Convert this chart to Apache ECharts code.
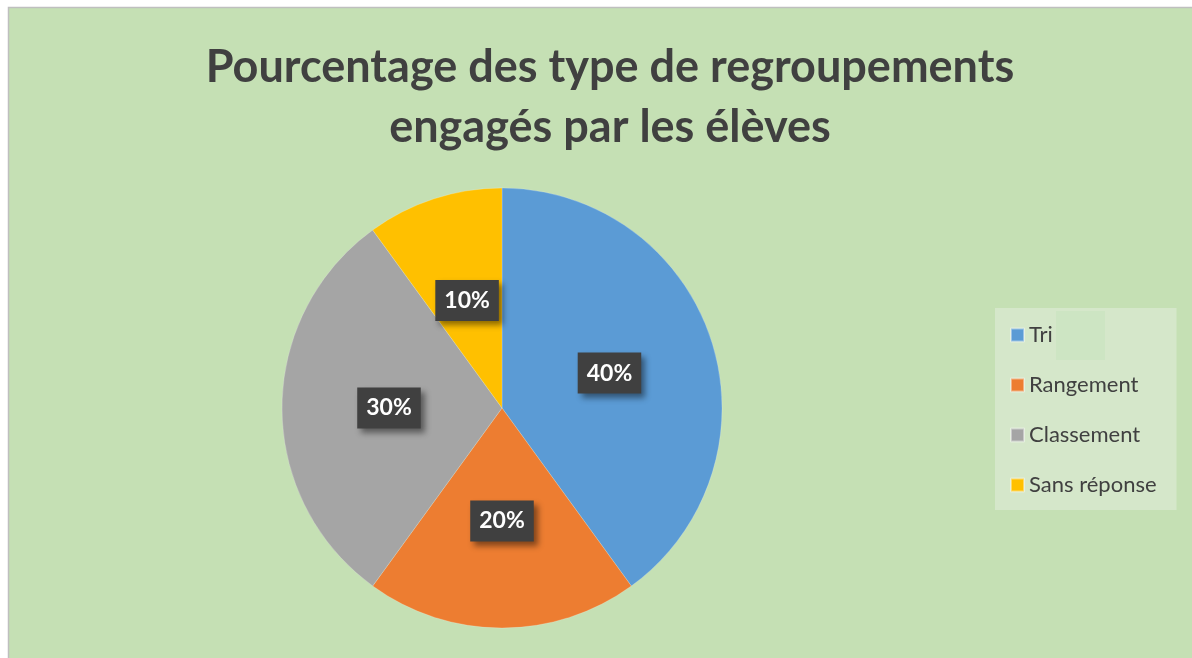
<!DOCTYPE html>
<html>
<head>
<meta charset="utf-8">
<script src="https://cdn.jsdelivr.net/npm/echarts@6/dist/echarts.min.js"></script>
<style>
  html, body { margin: 0; padding: 0; background: #ffffff; }
  #chart { width: 1192px; height: 658px; }
</style>
</head>
<body>
<div id="chart"></div>
<script>
// données du graphique
const categories = ['Tri', 'Rangement', 'Classement', 'Sans réponse']
const values = [40, 20, 30, 10]
const colors = ['#5B9BD5', '#ED7D31', '#A5A5A5', '#FFC000']

const chart = echarts.init(document.getElementById('chart'))

const options = {
  color: colors,
  title: {
    text: 'Pourcentage des type de regroupements\nengagés par les élèves',
    left: 605,
    textAlign: 'center',
    top: 32,
    textStyle: {
      fontFamily: 'Lato',
      fontWeight: 'bold',
      fontSize: 45,
      lineHeight: 60,
      color: '#404040'
    }
  },
  // fond vert + bordure
  graphic: [
    {
      type: 'rect',
      z: -10,
      shape: { x: 8.5, y: 7.5, width: 1300, height: 800 },
      style: { fill: '#C5E0B4', stroke: '#BFBFBF', lineWidth: 1.5 }
    },
    {
      type: 'rect',
      z: 10,
      shape: { x: 1056, y: 311, width: 49, height: 49 },
      style: { fill: '#CDE5C3' }
    }
  ],
  legend: {
    orient: 'vertical',
    left: 995,
    top: 308,
    padding: [16, 20, 14, 15],
    backgroundColor: '#D5E7CA',
    itemWidth: 13,
    itemHeight: 13,
    itemGap: 28,
    icon: 'rect',
    textStyle: {
      fontFamily: 'Lato',
      fontSize: 22,
      color: '#404040'
    },
    data: categories
  },
  series: [
    {
      type: 'pie',
      center: [502, 408],
      radius: 220,
      startAngle: 90,
      clockwise: true,
      silent: true,
      itemStyle: {
        borderColor: 'rgba(255,255,255,0.4)',
        borderWidth: 0.5
      },
      label: {
        show: true,
        position: 'inside',
        formatter: '{c}%',
        fontFamily: 'Lato',
        fontWeight: 'bold',
        fontSize: 23,
        color: '#ffffff',
        backgroundColor: '#404040',
        padding: [9, 9, 9, 9],
        shadowColor: 'rgba(0,0,0,0.45)',
        shadowBlur: 6,
        shadowOffsetX: 4,
        shadowOffsetY: 4
      },
      labelLine: { show: false },
      data: categories.map((name, i) => ({ name, value: values[i] }))
    }
  ]
}

chart.setOption(options)
window.addEventListener('resize', function () {
  chart && chart.resize()
})
</script>
</body>
</html>
